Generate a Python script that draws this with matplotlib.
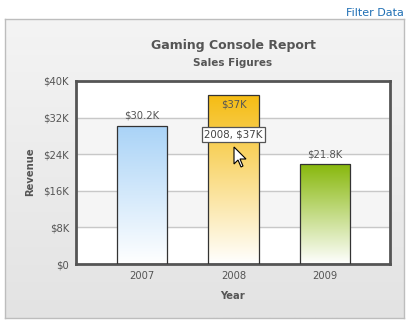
import matplotlib
matplotlib.use("Agg")
import matplotlib.pyplot as plt
import numpy as np
from matplotlib.colors import LinearSegmentedColormap
from matplotlib.patches import Polygon

# data
years = ["2007", "2008", "2009"]
revenue = [30200, 37000, 21800]
value_labels = ["$30.2K", "$37K", "$21.8K"]
y_ticks = [0, 8000, 16000, 24000, 32000, 40000]
y_tick_labels = ["$0", "$8K", "$16K", "$24K", "$32K", "$40K"]
bar_top_colors = ["#a9d3f7", "#f5bc12", "#88b80c"]

W, H = 409, 323
fig = plt.figure(figsize=(W / 100, H / 100), dpi=100)
fig.patch.set_facecolor("white")

# outer gray panel
bg = fig.add_axes([5 / W, 5 / H, 399 / W, 299 / H])
grad = np.linspace(0, 1, 256).reshape(-1, 1)
bg_cmap = LinearSegmentedColormap.from_list("bg", ["#e3e3e3", "#f4f4f4"])
bg.imshow(grad, cmap=bg_cmap, aspect="auto", origin="lower", extent=[0, 1, 0, 1])
bg.set_xticks([])
bg.set_yticks([])
for s in bg.spines.values():
    s.set_color("#bdbdbd")
    s.set_linewidth(1)

fig.text(404 / W, 1 - 13 / H, "Filter Data", color="#1f6fb4", fontsize=8,
         ha="right", va="center")
fig.text(233 / W, 1 - 45 / H, "Gaming Console Report", color="#555555",
         fontsize=9, fontweight="bold", ha="center", va="center")
fig.text(233 / W, 1 - 63 / H, "Sales Figures", color="#555555",
         fontsize=7.5, fontweight="bold", ha="center", va="center")

ax = fig.add_axes([76 / W, (H - 264) / H, 314 / W, 183 / H])
ax.set_facecolor("white")
x = np.arange(len(years))

# alternating bands + grid
for i in range(len(y_ticks) - 1):
    if i % 2 == 1:
        ax.axhspan(y_ticks[i], y_ticks[i + 1], color="#f5f5f5", zorder=0)
for t in y_ticks[1:-1]:
    ax.axhline(t, color="#c8c8c8", lw=1, zorder=1)

bars = ax.bar(x, revenue, width=0.55, facecolor="none", edgecolor="#333333",
              linewidth=0.9, zorder=3)
for b, c in zip(bars, bar_top_colors):
    cmap = LinearSegmentedColormap.from_list("g", ["#ffffff", c])
    im = ax.imshow(grad, cmap=cmap, aspect="auto", origin="lower",
                   extent=[b.get_x(), b.get_x() + b.get_width(), 0, b.get_height()],
                   zorder=2)
    im.set_clip_path(b)
ax.set_xlim(-0.72, 2.71)
ax.set_ylim(0, 40000)

for xi, v, lab in zip(x, revenue, value_labels):
    if v > 34000:
        ax.text(xi, v - 2200, lab, ha="center", va="center", fontsize=7.2,
                color="#555555", zorder=5)
    else:
        ax.text(xi, v + 1100, lab, ha="center", va="bottom", fontsize=7.2,
                color="#555555", zorder=5)

# tooltip over 2008 bar
ax.text(1.0, 28400, f"{years[1]}, {value_labels[1]}", ha="center", va="center",
        fontsize=7.4, color="#444444", zorder=6,
        bbox=dict(boxstyle="square,pad=0.25", fc="white", ec="#555555", lw=0.9))

# mouse cursor
cur = np.array([[0, 0], [0, 17], [4, 13], [7, 20], [9, 19], [6, 12], [12, 12]], float)
cx, cy = 234, 147
pts = [((cx + px) / W, 1 - (cy + py) / H) for px, py in cur]
fig.patches.append(Polygon(pts, closed=True, transform=fig.transFigure,
                           fc="white", ec="black", lw=0.8, zorder=10))

ax.set_xticks(x)
ax.set_xticklabels(years)
ax.set_yticks(y_ticks)
ax.set_yticklabels(y_tick_labels)
ax.tick_params(length=0, labelsize=7.2, labelcolor="#555555", pad=5)
for s in ax.spines.values():
    s.set_color("#555555")
    s.set_linewidth(2)

fig.text(30 / W, 1 - 172 / H, "Revenue", rotation=90, fontsize=7.2,
         fontweight="bold", color="#555555", ha="center", va="center")
fig.text(233 / W, 1 - 296 / H, "Year", fontsize=7.2, fontweight="bold",
         color="#555555", ha="center", va="center")

fig.savefig("out.png", dpi=100)
